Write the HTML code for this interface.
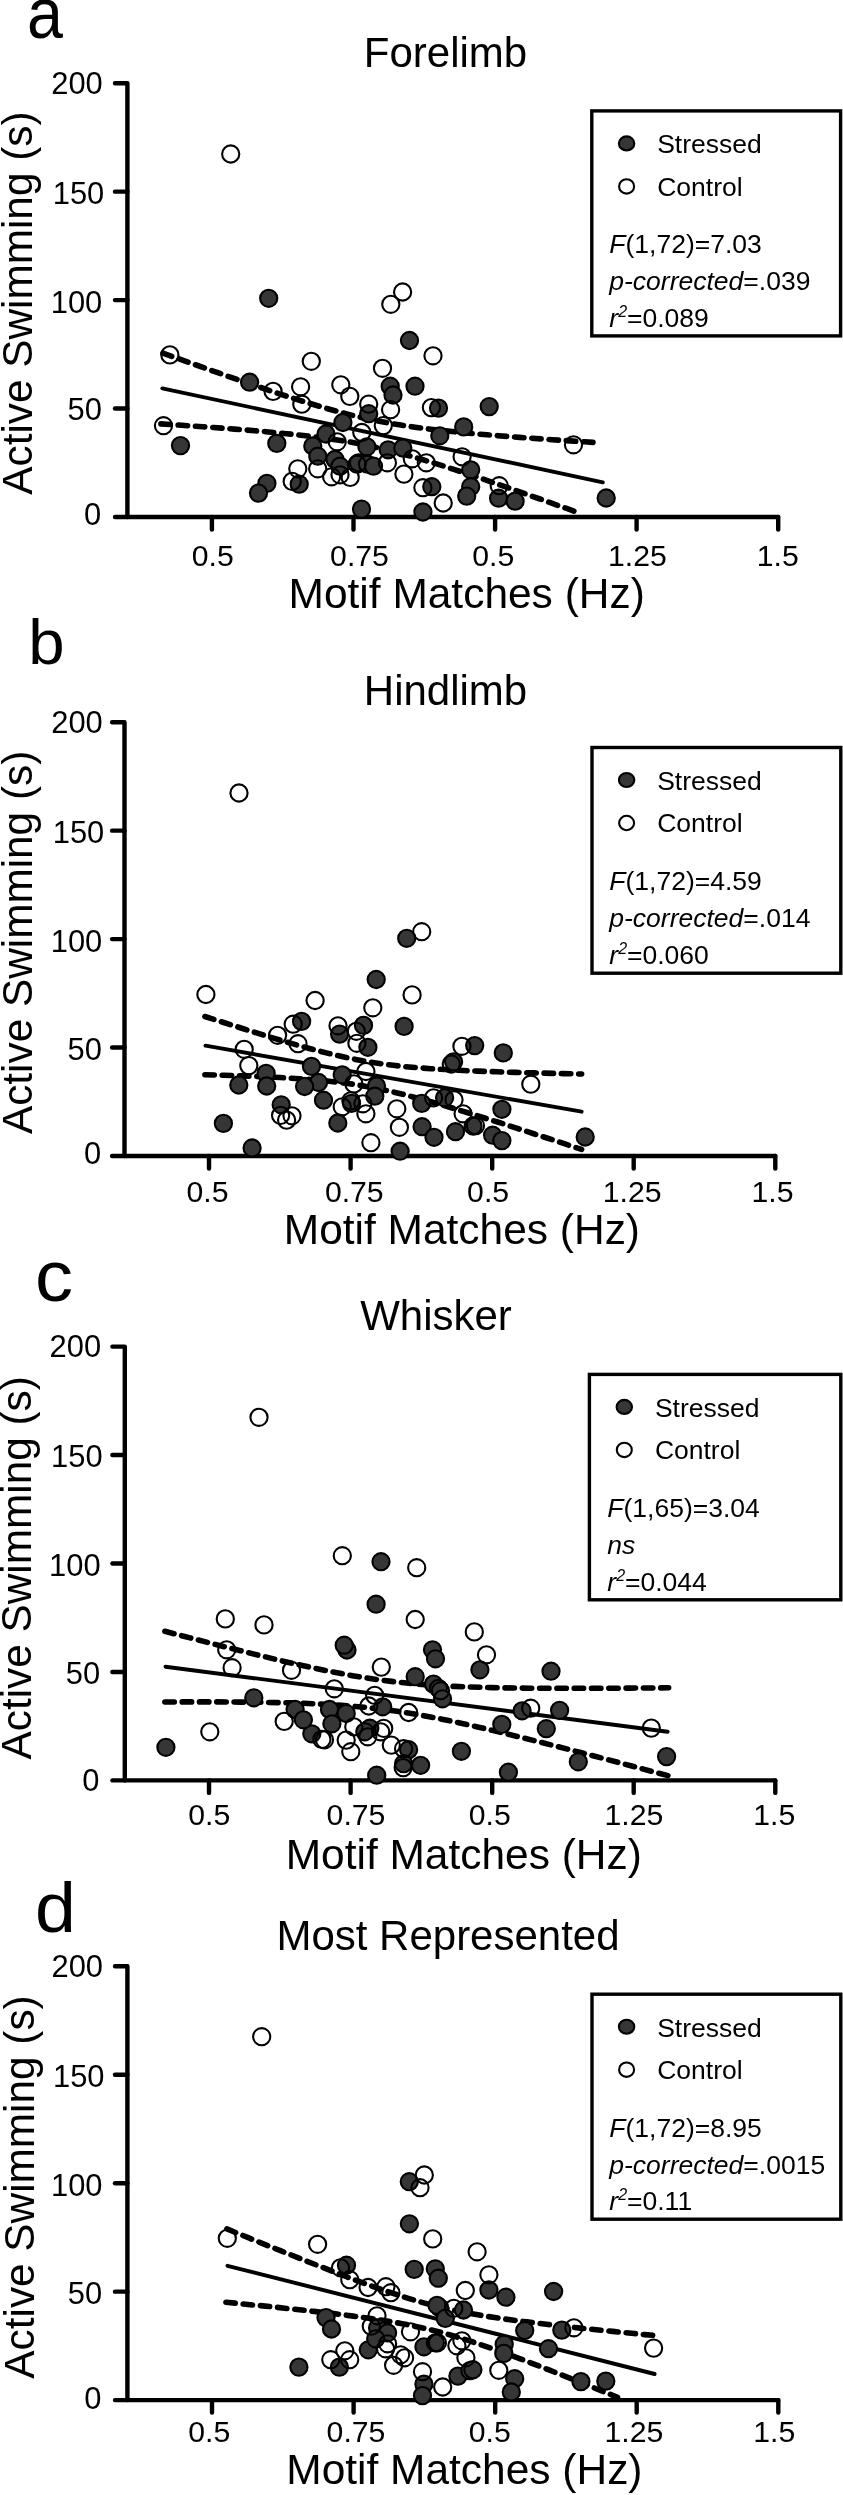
<!DOCTYPE html>
<html><head><meta charset="utf-8"><title>fig</title>
<style>
html,body{margin:0;padding:0;background:#fff;}
body{width:843px;height:2495px;overflow:hidden;}
svg{display:block;filter:grayscale(1);font-family:"Liberation Sans",sans-serif;fill:#000;}
.ax{stroke:#000;stroke-width:4.4;fill:none;stroke-linecap:round;stroke-linejoin:round}
.tk{font-size:30.2px}
.ytk{font-size:30.9px}
.big{font-size:42px}
.lg{font-size:26.5px}
.pl{font-size:72px}
.o{fill:none;stroke:#000;stroke-width:2.1}
.f{fill:#363636;stroke:#000;stroke-width:2.1}
.fit{stroke:#000;stroke-width:3.9;fill:none;stroke-linecap:round}
.ci{stroke:#000;stroke-width:5.6;fill:none;stroke-dasharray:9.4 7.9;stroke-linecap:round}
</style></head><body>
<svg width="843" height="2495" viewBox="0 0 843 2495">
<rect width="843" height="2495" fill="#fff"/>

<g>
<text class="pl" style="font-size:73px" transform="translate(27 37.7) scale(0.885 1)">a</text>
<text class="big" x="445.5" y="67" text-anchor="middle">Forelimb</text>
<path class="ax" d="M115.0 83.2 H127.4 V517.0"/>
<path class="ax" d="M115.0 517.0 H778.2"/>
<path class="ax" d="M115.0 408.55 H127.4"/>
<path class="ax" d="M115.0 300.1 H127.4"/>
<path class="ax" d="M115.0 191.64999999999998 H127.4"/>
<text class="ytk" x="101.2" y="525.0" text-anchor="end">0</text>
<text class="ytk" x="101.89999999999999" y="420.4" text-anchor="end">50</text>
<text class="ytk" x="102.3" y="312.9" text-anchor="end">100</text>
<text class="ytk" x="104.3" y="203.6" text-anchor="end">150</text>
<text class="ytk" x="102.8" y="93.6" text-anchor="end">200</text>
<path class="ax" d="M211.9 517.0 V529.5"/>
<text class="tk" x="212.7" y="566.0" text-anchor="middle">0.5</text>
<path class="ax" d="M353.5 517.0 V529.5"/>
<text class="tk" x="359.5" y="566.0" text-anchor="middle">0.75</text>
<path class="ax" d="M495.1 517.0 V529.5"/>
<text class="tk" x="493.3" y="566.0" text-anchor="middle">0.5</text>
<path class="ax" d="M636.6 517.0 V529.5"/>
<text class="tk" x="637.4" y="566.0" text-anchor="middle">1.25</text>
<path class="ax" d="M778.2 517.0 V529.5"/>
<text class="tk" x="777.7" y="566.0" text-anchor="middle">1.5</text>
<text class="big" x="466.7" y="607.5" text-anchor="middle" textLength="356.2" lengthAdjust="spacingAndGlyphs">Motif Matches (Hz)</text>
<text class="big" transform="translate(32.3 303.1) rotate(-90)" text-anchor="middle" textLength="383.3" lengthAdjust="spacingAndGlyphs">Active Swimming (s)</text>
<rect x="591.8" y="110.9" width="248.80000000000007" height="224.99999999999997" fill="#fff" stroke="#000" stroke-width="3.4"/>
<ellipse class="f" cx="626.6" cy="143.4" rx="7.7" ry="7.0"/>
<ellipse class="o" cx="626.6" cy="186.4" rx="7.5" ry="7.2"/>
<text class="lg" x="657.2" y="153.4">Stressed</text>
<text class="lg" x="657.2" y="195.8">Control</text>
<text class="lg" x="609.3" y="253.4"><tspan font-style="italic">F</tspan>(1,72)=7.03</text>
<text class="lg" x="609.3" y="290.2"><tspan font-style="italic">p-corrected</tspan>=.039</text>
<text class="lg" x="609.3" y="327.0"><tspan font-style="italic">r</tspan><tspan font-size="16" dy="-10" font-style="italic">2</tspan><tspan dy="10">=0.089</tspan></text>
<path class="ci" d="M162.9 353.1 L173.7 357.0 L184.5 360.8 L195.3 364.7 L206.2 368.5 L217.0 372.4 L227.8 376.2 L238.6 379.9 L249.4 383.7 L260.2 387.3 L271.0 391.0 L281.8 394.6 L292.6 398.1 L303.5 401.5 L314.3 404.8 L325.1 408.0 L335.9 411.0 L346.7 413.9 L357.5 416.6 L368.3 419.0 L379.1 421.2 L390.0 423.3 L400.8 425.1 L411.6 426.7 L422.4 428.2 L433.2 429.5 L444.0 430.7 L454.8 431.8 L465.6 432.9 L476.5 433.9 L487.3 434.8 L498.1 435.7 L508.9 436.5 L519.7 437.4 L530.5 438.1 L541.3 438.9 L552.1 439.7 L563.0 440.4 L573.8 441.1 L584.6 441.8 L595.4 442.5"/>
<path class="ci" d="M160.9 423.9 L171.4 424.6 L181.9 425.3 L192.4 426.0 L202.9 426.7 L213.4 427.5 L223.8 428.3 L234.3 429.1 L244.8 429.9 L255.3 430.8 L265.8 431.7 L276.3 432.7 L286.8 433.7 L297.3 434.8 L307.8 436.0 L318.2 437.3 L328.7 438.7 L339.2 440.3 L349.7 442.0 L360.2 444.0 L370.7 446.1 L381.2 448.5 L391.7 451.0 L402.2 453.8 L412.7 456.7 L423.1 459.8 L433.6 462.9 L444.1 466.2 L454.6 469.6 L465.1 473.1 L475.6 476.6 L486.1 480.1 L496.6 483.8 L507.1 487.4 L517.6 491.1 L528.0 494.8 L538.5 498.5 L549.0 502.2 L559.5 506.0 L570.0 509.7 L580.5 513.5"/>
<path class="fit" d="M162.3 388.4 L602.8 482.3"/>
<circle class="f" cx="268.7" cy="298.3" r="8.6"/>
<circle class="f" cx="409.5" cy="340.5" r="8.6"/>
<circle class="f" cx="249.6" cy="382.2" r="8.6"/>
<circle class="f" cx="415" cy="386.2" r="8.6"/>
<circle class="f" cx="390.2" cy="386.2" r="8.6"/>
<circle class="f" cx="393" cy="395" r="8.6"/>
<circle class="f" cx="438.5" cy="408.1" r="8.6"/>
<circle class="f" cx="368.7" cy="413.7" r="8.6"/>
<circle class="f" cx="342.9" cy="422.5" r="8.6"/>
<circle class="f" cx="326" cy="434" r="8.6"/>
<circle class="f" cx="439.8" cy="435.8" r="8.6"/>
<circle class="f" cx="312.8" cy="446" r="8.6"/>
<circle class="f" cx="366.9" cy="446.8" r="8.6"/>
<circle class="f" cx="317.8" cy="456.2" r="8.6"/>
<circle class="f" cx="388.2" cy="449.8" r="8.6"/>
<circle class="f" cx="402.8" cy="448" r="8.6"/>
<circle class="f" cx="180.5" cy="445.6" r="8.6"/>
<circle class="f" cx="276.8" cy="443.4" r="8.6"/>
<circle class="f" cx="266.9" cy="483.4" r="8.6"/>
<circle class="f" cx="258.5" cy="493.1" r="8.6"/>
<circle class="f" cx="299.2" cy="484.2" r="8.6"/>
<circle class="f" cx="335" cy="459.5" r="8.6"/>
<circle class="f" cx="340" cy="466.2" r="8.6"/>
<circle class="f" cx="358.5" cy="462.8" r="8.6"/>
<circle class="f" cx="367.5" cy="464.2" r="8.6"/>
<circle class="f" cx="373.5" cy="466.2" r="8.6"/>
<circle class="f" cx="361.5" cy="509.1" r="8.6"/>
<circle class="f" cx="489.2" cy="406.6" r="8.6"/>
<circle class="f" cx="463.7" cy="426.9" r="8.6"/>
<circle class="f" cx="470.7" cy="469.8" r="8.6"/>
<circle class="f" cx="470.7" cy="486.7" r="8.6"/>
<circle class="f" cx="466.7" cy="496.1" r="8.6"/>
<circle class="f" cx="431.8" cy="486.7" r="8.6"/>
<circle class="f" cx="422.9" cy="512" r="8.6"/>
<circle class="f" cx="498.6" cy="498.2" r="8.6"/>
<circle class="f" cx="515.1" cy="501.2" r="8.6"/>
<circle class="f" cx="606.2" cy="498" r="8.6"/>
<circle class="o" cx="230.7" cy="154" r="8.6"/>
<circle class="o" cx="402.6" cy="292" r="8.6"/>
<circle class="o" cx="390.8" cy="304.3" r="8.6"/>
<circle class="o" cx="169.9" cy="354.9" r="8.6"/>
<circle class="o" cx="273.1" cy="391.4" r="8.6"/>
<circle class="o" cx="163.5" cy="425.7" r="8.6"/>
<circle class="o" cx="301.8" cy="404.2" r="8.6"/>
<circle class="o" cx="300.6" cy="386.8" r="8.6"/>
<circle class="o" cx="311.3" cy="361.3" r="8.6"/>
<circle class="o" cx="340.8" cy="384.8" r="8.6"/>
<circle class="o" cx="349.8" cy="396.4" r="8.6"/>
<circle class="o" cx="368.7" cy="404.1" r="8.6"/>
<circle class="o" cx="382.5" cy="368.3" r="8.6"/>
<circle class="o" cx="390.6" cy="409.7" r="8.6"/>
<circle class="o" cx="433" cy="355.8" r="8.6"/>
<circle class="o" cx="431.4" cy="407.6" r="8.6"/>
<circle class="o" cx="383.3" cy="425.6" r="8.6"/>
<circle class="o" cx="361.8" cy="432.5" r="8.6"/>
<circle class="o" cx="337.2" cy="441.8" r="8.6"/>
<circle class="o" cx="297.8" cy="468.8" r="8.6"/>
<circle class="o" cx="292.2" cy="481.4" r="8.6"/>
<circle class="o" cx="317.7" cy="468.8" r="8.6"/>
<circle class="o" cx="331.6" cy="476.8" r="8.6"/>
<circle class="o" cx="340" cy="474.8" r="8.6"/>
<circle class="o" cx="350.2" cy="477.4" r="8.6"/>
<circle class="o" cx="357.1" cy="464.2" r="8.6"/>
<circle class="o" cx="387.4" cy="462.8" r="8.6"/>
<circle class="o" cx="462.1" cy="456.8" r="8.6"/>
<circle class="o" cx="412.3" cy="458.8" r="8.6"/>
<circle class="o" cx="426.3" cy="462.8" r="8.6"/>
<circle class="o" cx="403.9" cy="474.1" r="8.6"/>
<circle class="o" cx="422.9" cy="487.7" r="8.6"/>
<circle class="o" cx="443.2" cy="503" r="8.6"/>
<circle class="o" cx="499.2" cy="485.7" r="8.6"/>
<circle class="o" cx="573.5" cy="444.8" r="8.6"/>
</g>
<g>
<text class="pl" style="font-size:63.5px" transform="translate(28.3 663.6) scale(1.03 1)">b</text>
<text class="big" x="445.5" y="705" text-anchor="middle">Hindlimb</text>
<path class="ax" d="M112.1 722.2 H124.5 V1156.0"/>
<path class="ax" d="M112.1 1156.0 H775.3000000000001"/>
<path class="ax" d="M112.1 1047.55 H124.5"/>
<path class="ax" d="M112.1 939.1 H124.5"/>
<path class="ax" d="M112.1 830.65 H124.5"/>
<text class="ytk" x="101.2" y="1164.0" text-anchor="end">0</text>
<text class="ytk" x="101.89999999999999" y="1059.5" text-anchor="end">50</text>
<text class="ytk" x="102.3" y="951.9" text-anchor="end">100</text>
<text class="ytk" x="104.3" y="842.6" text-anchor="end">150</text>
<text class="ytk" x="102.8" y="732.6" text-anchor="end">200</text>
<path class="ax" d="M209.0 1156.0 V1168.5"/>
<text class="tk" x="207.5" y="1201.5" text-anchor="middle">0.5</text>
<path class="ax" d="M350.6 1156.0 V1168.5"/>
<text class="tk" x="354.3" y="1201.5" text-anchor="middle">0.75</text>
<path class="ax" d="M492.20000000000005 1156.0 V1168.5"/>
<text class="tk" x="488.1" y="1201.5" text-anchor="middle">0.5</text>
<path class="ax" d="M633.7 1156.0 V1168.5"/>
<text class="tk" x="632.2" y="1201.5" text-anchor="middle">1.25</text>
<path class="ax" d="M775.3000000000001 1156.0 V1168.5"/>
<text class="tk" x="772.5" y="1201.5" text-anchor="middle">1.5</text>
<text class="big" x="461.9" y="1244.0" text-anchor="middle" textLength="356.2" lengthAdjust="spacingAndGlyphs">Motif Matches (Hz)</text>
<text class="big" transform="translate(32.3 942.4) rotate(-90)" text-anchor="middle" textLength="383.3" lengthAdjust="spacingAndGlyphs">Active Swimming (s)</text>
<rect x="592" y="747.5" width="248.79999999999995" height="225.70000000000005" fill="#fff" stroke="#000" stroke-width="3.4"/>
<ellipse class="f" cx="626.6" cy="780.0" rx="7.7" ry="7.0"/>
<ellipse class="o" cx="626.6" cy="823.0" rx="7.5" ry="7.2"/>
<text class="lg" x="657.2" y="790.0">Stressed</text>
<text class="lg" x="657.2" y="832.4">Control</text>
<text class="lg" x="609.3" y="890.0"><tspan font-style="italic">F</tspan>(1,72)=4.59</text>
<text class="lg" x="609.3" y="926.8"><tspan font-style="italic">p-corrected</tspan>=.014</text>
<text class="lg" x="609.3" y="963.6"><tspan font-style="italic">r</tspan><tspan font-size="16" dy="-10" font-style="italic">2</tspan><tspan dy="10">=0.060</tspan></text>
<path class="ci" d="M204.9 1016.5 L214.3 1019.5 L223.7 1022.5 L233.2 1025.5 L242.6 1028.5 L252.0 1031.5 L261.4 1034.4 L270.8 1037.3 L280.2 1040.1 L289.7 1042.9 L299.1 1045.6 L308.5 1048.2 L317.9 1050.7 L327.3 1053.1 L336.7 1055.4 L346.2 1057.5 L355.6 1059.4 L365.0 1061.2 L374.4 1062.7 L383.8 1064.1 L393.2 1065.3 L402.7 1066.4 L412.1 1067.3 L421.5 1068.0 L430.9 1068.7 L440.3 1069.3 L449.8 1069.8 L459.2 1070.3 L468.6 1070.8 L478.0 1071.1 L487.4 1071.5 L496.8 1071.8 L506.3 1072.1 L515.7 1072.4 L525.1 1072.7 L534.5 1072.9 L543.9 1073.1 L553.3 1073.4 L562.8 1073.6 L572.2 1073.8 L581.6 1074.0"/>
<path class="ci" d="M204.9 1074.7 L214.3 1075.0 L223.7 1075.3 L233.2 1075.6 L242.6 1075.9 L252.0 1076.2 L261.4 1076.6 L270.8 1077.1 L280.2 1077.5 L289.7 1078.1 L299.1 1078.7 L308.5 1079.3 L317.9 1080.1 L327.3 1081.0 L336.7 1082.1 L346.2 1083.3 L355.6 1084.6 L365.0 1086.2 L374.4 1087.9 L383.8 1089.9 L393.2 1092.0 L402.7 1094.2 L412.1 1096.7 L421.5 1099.2 L430.9 1101.8 L440.3 1104.5 L449.8 1107.3 L459.2 1110.1 L468.6 1113.0 L478.0 1115.9 L487.4 1118.9 L496.8 1121.8 L506.3 1124.8 L515.7 1127.9 L525.1 1130.9 L534.5 1134.0 L543.9 1137.0 L553.3 1140.1 L562.8 1143.2 L572.2 1146.3 L581.6 1149.4"/>
<path class="fit" d="M205.5 1045.7 L581.6 1111.7"/>
<circle class="f" cx="376.2" cy="979.5" r="8.6"/>
<circle class="f" cx="301.6" cy="1021.4" r="8.6"/>
<circle class="f" cx="339.6" cy="1034.1" r="8.6"/>
<circle class="f" cx="311.5" cy="1066.4" r="8.6"/>
<circle class="f" cx="266.1" cy="1073.4" r="8.6"/>
<circle class="f" cx="238.8" cy="1085" r="8.6"/>
<circle class="f" cx="318.5" cy="1082.5" r="8.6"/>
<circle class="f" cx="304.6" cy="1086.5" r="8.6"/>
<circle class="f" cx="266.7" cy="1086" r="8.6"/>
<circle class="f" cx="342.2" cy="1074.8" r="8.6"/>
<circle class="f" cx="323.5" cy="1100.2" r="8.6"/>
<circle class="f" cx="281.2" cy="1104.8" r="8.6"/>
<circle class="f" cx="223.4" cy="1123.4" r="8.6"/>
<circle class="f" cx="252.1" cy="1148" r="8.6"/>
<circle class="f" cx="337.8" cy="1123" r="8.6"/>
<circle class="f" cx="404.1" cy="1026.4" r="8.6"/>
<circle class="f" cx="363.5" cy="1025.4" r="8.6"/>
<circle class="f" cx="367.9" cy="1047.3" r="8.6"/>
<circle class="f" cx="474.7" cy="1045.6" r="8.6"/>
<circle class="f" cx="453.6" cy="1061.8" r="8.6"/>
<circle class="f" cx="376.5" cy="1086" r="8.6"/>
<circle class="f" cx="374.8" cy="1096.2" r="8.6"/>
<circle class="f" cx="351.5" cy="1103.4" r="8.6"/>
<circle class="f" cx="421.7" cy="1103.4" r="8.6"/>
<circle class="f" cx="422.1" cy="1126.7" r="8.6"/>
<circle class="f" cx="434" cy="1137.3" r="8.6"/>
<circle class="f" cx="400.1" cy="1151.2" r="8.6"/>
<circle class="f" cx="444.6" cy="1097.8" r="8.6"/>
<circle class="f" cx="455.5" cy="1131.7" r="8.6"/>
<circle class="f" cx="473.1" cy="1126" r="8.6"/>
<circle class="f" cx="492.6" cy="1135.2" r="8.6"/>
<circle class="f" cx="503.3" cy="1052.9" r="8.6"/>
<circle class="f" cx="501.9" cy="1109.3" r="8.6"/>
<circle class="f" cx="501.9" cy="1140.6" r="8.6"/>
<circle class="f" cx="585.2" cy="1137" r="8.6"/>
<circle class="o" cx="239" cy="793" r="8.6"/>
<circle class="o" cx="421.7" cy="931.7" r="8.6"/>
<circle class="o" cx="205.9" cy="994.5" r="8.6"/>
<circle class="o" cx="315.1" cy="1000.5" r="8.6"/>
<circle class="o" cx="293.2" cy="1024.2" r="8.6"/>
<circle class="o" cx="277.6" cy="1035.3" r="8.6"/>
<circle class="o" cx="298" cy="1043.7" r="8.6"/>
<circle class="o" cx="244.2" cy="1049.3" r="8.6"/>
<circle class="o" cx="248.8" cy="1065.6" r="8.6"/>
<circle class="o" cx="338" cy="1025.8" r="8.6"/>
<circle class="o" cx="280.6" cy="1115.4" r="8.6"/>
<circle class="o" cx="286.6" cy="1120.1" r="8.6"/>
<circle class="o" cx="292" cy="1115.8" r="8.6"/>
<circle class="o" cx="342.2" cy="1106.8" r="8.6"/>
<circle class="o" cx="412.1" cy="994.9" r="8.6"/>
<circle class="o" cx="372.8" cy="1007.8" r="8.6"/>
<circle class="o" cx="356.3" cy="1031.3" r="8.6"/>
<circle class="o" cx="356.9" cy="1043.3" r="8.6"/>
<circle class="o" cx="461.9" cy="1046.3" r="8.6"/>
<circle class="o" cx="451.3" cy="1064" r="8.6"/>
<circle class="o" cx="365.9" cy="1071.5" r="8.6"/>
<circle class="o" cx="353.9" cy="1083.9" r="8.6"/>
<circle class="o" cx="350.9" cy="1100.8" r="8.6"/>
<circle class="o" cx="362.9" cy="1103.8" r="8.6"/>
<circle class="o" cx="365.9" cy="1113.8" r="8.6"/>
<circle class="o" cx="396.8" cy="1108.8" r="8.6"/>
<circle class="o" cx="399.4" cy="1127.3" r="8.6"/>
<circle class="o" cx="370.9" cy="1142.7" r="8.6"/>
<circle class="o" cx="433.6" cy="1097.8" r="8.6"/>
<circle class="o" cx="454" cy="1099.8" r="8.6"/>
<circle class="o" cx="463.1" cy="1113.8" r="8.6"/>
<circle class="o" cx="475.5" cy="1125.7" r="8.6"/>
<circle class="o" cx="530.8" cy="1084.2" r="8.6"/>
<circle class="f" cx="406.7" cy="938.3" r="8.6"/>
</g>
<g>
<text class="pl" style="font-size:72px" transform="translate(35 1300.7) scale(1.055 1)">c</text>
<text class="big" x="436" y="1330" text-anchor="middle">Whisker</text>
<path class="ax" d="M112.39999999999999 1346.6 H124.8 V1780.3999999999999"/>
<path class="ax" d="M112.39999999999999 1780.3999999999999 H775.3000000000001"/>
<path class="ax" d="M112.39999999999999 1671.9499999999998 H124.8"/>
<path class="ax" d="M112.39999999999999 1563.4999999999998 H124.8"/>
<path class="ax" d="M112.39999999999999 1455.0499999999997 H124.8"/>
<text class="ytk" x="99.5" y="1791.4" text-anchor="end">0</text>
<text class="ytk" x="100.19999999999999" y="1683.8" text-anchor="end">50</text>
<text class="ytk" x="100.6" y="1576.3" text-anchor="end">100</text>
<text class="ytk" x="102.6" y="1467.0" text-anchor="end">150</text>
<text class="ytk" x="101.1" y="1357.0" text-anchor="end">200</text>
<path class="ax" d="M209.0 1780.3999999999999 V1792.8999999999999"/>
<text class="tk" x="209.2" y="1825.4" text-anchor="middle">0.5</text>
<path class="ax" d="M350.6 1780.3999999999999 V1792.8999999999999"/>
<text class="tk" x="356.0" y="1825.4" text-anchor="middle">0.75</text>
<path class="ax" d="M492.20000000000005 1780.3999999999999 V1792.8999999999999"/>
<text class="tk" x="489.8" y="1825.4" text-anchor="middle">0.5</text>
<path class="ax" d="M633.7 1780.3999999999999 V1792.8999999999999"/>
<text class="tk" x="633.9" y="1825.4" text-anchor="middle">1.25</text>
<path class="ax" d="M775.3000000000001 1780.3999999999999 V1792.8999999999999"/>
<text class="tk" x="774.2" y="1825.4" text-anchor="middle">1.5</text>
<text class="big" x="463.8" y="1868.5" text-anchor="middle" textLength="356.2" lengthAdjust="spacingAndGlyphs">Motif Matches (Hz)</text>
<text class="big" transform="translate(30.799999999999997 1567.8) rotate(-90)" text-anchor="middle" textLength="383.3" lengthAdjust="spacingAndGlyphs">Active Swimming (s)</text>
<rect x="589.4" y="1374.4" width="251.39999999999998" height="225.39999999999986" fill="#fff" stroke="#000" stroke-width="3.4"/>
<ellipse class="f" cx="624.3" cy="1406.9" rx="7.7" ry="7.0"/>
<ellipse class="o" cx="624.3" cy="1449.9" rx="7.5" ry="7.2"/>
<text class="lg" x="654.9" y="1416.9">Stressed</text>
<text class="lg" x="654.9" y="1459.3000000000002">Control</text>
<text class="lg" x="607.3" y="1516.9"><tspan font-style="italic">F</tspan>(1,65)=3.04</text>
<text class="lg" x="607.3" y="1553.7"><tspan font-style="italic">ns</tspan></text>
<text class="lg" x="607.3" y="1590.5"><tspan font-style="italic">r</tspan><tspan font-size="16" dy="-10" font-style="italic">2</tspan><tspan dy="10">=0.044</tspan></text>
<path class="ci" d="M164.9 1631.3 L177.5 1634.6 L190.1 1637.9 L202.7 1641.1 L215.3 1644.4 L227.9 1647.6 L240.5 1650.7 L253.0 1653.9 L265.6 1656.9 L278.2 1660.0 L290.8 1662.9 L303.4 1665.8 L316.0 1668.5 L328.6 1671.1 L341.2 1673.6 L353.8 1675.9 L366.4 1678.0 L379.0 1679.8 L391.6 1681.4 L404.2 1682.8 L416.8 1684.0 L429.3 1685.0 L441.9 1685.8 L454.5 1686.4 L467.1 1686.9 L479.7 1687.3 L492.3 1687.6 L504.9 1687.9 L517.5 1688.0 L530.1 1688.2 L542.7 1688.3 L555.3 1688.3 L567.9 1688.3 L580.5 1688.3 L593.0 1688.3 L605.6 1688.3 L618.2 1688.2 L630.8 1688.1 L643.4 1688.0 L656.0 1687.9 L668.6 1687.8"/>
<path class="ci" d="M164.9 1702.0 L177.5 1701.9 L190.1 1701.9 L202.7 1701.9 L215.3 1701.9 L227.9 1702.0 L240.5 1702.1 L253.0 1702.2 L265.6 1702.4 L278.2 1702.6 L290.8 1702.9 L303.4 1703.3 L316.0 1703.9 L328.6 1704.5 L341.2 1705.3 L353.8 1706.3 L366.4 1707.5 L379.0 1708.9 L391.6 1710.5 L404.2 1712.4 L416.8 1714.5 L429.3 1716.7 L441.9 1719.2 L454.5 1721.8 L467.1 1724.6 L479.7 1727.4 L492.3 1730.4 L504.9 1733.4 L517.5 1736.5 L530.1 1739.6 L542.7 1742.8 L555.3 1746.0 L567.9 1749.2 L580.5 1752.5 L593.0 1755.8 L605.6 1759.1 L618.2 1762.4 L630.8 1765.8 L643.4 1769.1 L656.0 1772.5 L668.6 1775.8"/>
<path class="fit" d="M165.5 1666.7 L667.6 1731.7"/>
<circle class="f" cx="381" cy="1561.7" r="8.6"/>
<circle class="f" cx="376.1" cy="1604.2" r="8.6"/>
<circle class="f" cx="253.8" cy="1697.8" r="8.6"/>
<circle class="f" cx="295.1" cy="1709.5" r="8.6"/>
<circle class="f" cx="311.8" cy="1733.8" r="8.6"/>
<circle class="f" cx="165.9" cy="1747.3" r="8.6"/>
<circle class="f" cx="347" cy="1650" r="8.6"/>
<circle class="f" cx="344.2" cy="1645.2" r="8.6"/>
<circle class="f" cx="432.5" cy="1649.8" r="8.6"/>
<circle class="f" cx="435.5" cy="1658.8" r="8.6"/>
<circle class="f" cx="415.2" cy="1676.7" r="8.6"/>
<circle class="f" cx="433.5" cy="1684.1" r="8.6"/>
<circle class="f" cx="438.5" cy="1688.3" r="8.6"/>
<circle class="f" cx="442.5" cy="1698.8" r="8.6"/>
<circle class="f" cx="382.7" cy="1706.8" r="8.6"/>
<circle class="f" cx="329.5" cy="1709.5" r="8.6"/>
<circle class="f" cx="346.2" cy="1713.5" r="8.6"/>
<circle class="f" cx="331.9" cy="1723.8" r="8.6"/>
<circle class="f" cx="369.8" cy="1728.2" r="8.6"/>
<circle class="f" cx="364.8" cy="1731.8" r="8.6"/>
<circle class="f" cx="408.6" cy="1749.7" r="8.6"/>
<circle class="f" cx="403.6" cy="1763.7" r="8.6"/>
<circle class="f" cx="420.6" cy="1765.3" r="8.6"/>
<circle class="f" cx="376.7" cy="1775.2" r="8.6"/>
<circle class="f" cx="461.4" cy="1751.3" r="8.6"/>
<circle class="f" cx="479.9" cy="1669.8" r="8.6"/>
<circle class="f" cx="551" cy="1671.2" r="8.6"/>
<circle class="f" cx="522.1" cy="1710.8" r="8.6"/>
<circle class="f" cx="559.6" cy="1710.3" r="8.6"/>
<circle class="f" cx="501.8" cy="1724.4" r="8.6"/>
<circle class="f" cx="546.3" cy="1728.7" r="8.6"/>
<circle class="f" cx="508.4" cy="1772.2" r="8.6"/>
<circle class="f" cx="578.3" cy="1761.8" r="8.6"/>
<circle class="f" cx="666.6" cy="1756.6" r="8.6"/>
<circle class="o" cx="324.5" cy="1739.8" r="8.6"/>
<circle class="o" cx="259" cy="1417.3" r="8.6"/>
<circle class="o" cx="342.3" cy="1555.7" r="8.6"/>
<circle class="o" cx="416.7" cy="1567.7" r="8.6"/>
<circle class="o" cx="225.3" cy="1618.9" r="8.6"/>
<circle class="o" cx="264" cy="1624.9" r="8.6"/>
<circle class="o" cx="226.7" cy="1649.8" r="8.6"/>
<circle class="o" cx="232.1" cy="1667.7" r="8.6"/>
<circle class="o" cx="291.5" cy="1670.3" r="8.6"/>
<circle class="o" cx="284.2" cy="1721.4" r="8.6"/>
<circle class="o" cx="209.8" cy="1731.8" r="8.6"/>
<circle class="o" cx="415.2" cy="1619.5" r="8.6"/>
<circle class="o" cx="381.3" cy="1667.1" r="8.6"/>
<circle class="o" cx="334.3" cy="1688.8" r="8.6"/>
<circle class="o" cx="374.7" cy="1695.4" r="8.6"/>
<circle class="o" cx="368.8" cy="1706" r="8.6"/>
<circle class="o" cx="408.6" cy="1712.5" r="8.6"/>
<circle class="o" cx="440.5" cy="1690.7" r="8.6"/>
<circle class="o" cx="321.9" cy="1739.4" r="8.6"/>
<circle class="o" cx="353.8" cy="1726.8" r="8.6"/>
<circle class="o" cx="346.2" cy="1740.1" r="8.6"/>
<circle class="o" cx="350.8" cy="1751.7" r="8.6"/>
<circle class="o" cx="367.8" cy="1736.8" r="8.6"/>
<circle class="o" cx="380.7" cy="1731.8" r="8.6"/>
<circle class="o" cx="383.7" cy="1728.4" r="8.6"/>
<circle class="o" cx="391.3" cy="1745.1" r="8.6"/>
<circle class="o" cx="403.6" cy="1748.7" r="8.6"/>
<circle class="o" cx="403.2" cy="1767.6" r="8.6"/>
<circle class="o" cx="474.3" cy="1631.9" r="8.6"/>
<circle class="o" cx="486.5" cy="1654.8" r="8.6"/>
<circle class="o" cx="530.7" cy="1708.2" r="8.6"/>
<circle class="o" cx="651.3" cy="1728.1" r="8.6"/>
<circle class="f" cx="303.4" cy="1719.8" r="8.6"/>
</g>
<g>
<text class="pl" style="font-size:69.5px" transform="translate(35 1931.5) scale(1.057 1)">d</text>
<text class="big" x="448" y="1949.8" text-anchor="middle">Most Represented</text>
<path class="ax" d="M115.0 1966.3 H127.4 V2400.1"/>
<path class="ax" d="M115.0 2400.1 H778.3000000000001"/>
<path class="ax" d="M115.0 2291.65 H127.4"/>
<path class="ax" d="M115.0 2183.2 H127.4"/>
<path class="ax" d="M115.0 2074.75 H127.4"/>
<text class="ytk" x="101.4" y="2409.1" text-anchor="end">0</text>
<text class="ytk" x="102.1" y="2303.6" text-anchor="end">50</text>
<text class="ytk" x="102.5" y="2196.0" text-anchor="end">100</text>
<text class="ytk" x="104.5" y="2086.8" text-anchor="end">150</text>
<text class="ytk" x="103.0" y="1976.7" text-anchor="end">200</text>
<path class="ax" d="M212.0 2400.1 V2412.6"/>
<text class="tk" x="209.2" y="2441.9" text-anchor="middle">0.5</text>
<path class="ax" d="M353.6 2400.1 V2412.6"/>
<text class="tk" x="356.0" y="2441.9" text-anchor="middle">0.75</text>
<path class="ax" d="M495.20000000000005 2400.1 V2412.6"/>
<text class="tk" x="489.8" y="2441.9" text-anchor="middle">0.5</text>
<path class="ax" d="M636.7 2400.1 V2412.6"/>
<text class="tk" x="633.9" y="2441.9" text-anchor="middle">1.25</text>
<path class="ax" d="M778.3000000000001 2400.1 V2412.6"/>
<text class="tk" x="774.2" y="2441.9" text-anchor="middle">1.5</text>
<text class="big" x="464.4" y="2483.7" text-anchor="middle" textLength="356.2" lengthAdjust="spacingAndGlyphs">Motif Matches (Hz)</text>
<text class="big" transform="translate(33.699999999999996 2187.0) rotate(-90)" text-anchor="middle" textLength="383.3" lengthAdjust="spacingAndGlyphs">Active Swimming (s)</text>
<rect x="592" y="1994.2" width="248.79999999999995" height="224.99999999999977" fill="#fff" stroke="#000" stroke-width="3.4"/>
<ellipse class="f" cx="626.6" cy="2026.7" rx="7.7" ry="7.0"/>
<ellipse class="o" cx="626.6" cy="2069.7" rx="7.5" ry="7.2"/>
<text class="lg" x="657.2" y="2036.7">Stressed</text>
<text class="lg" x="657.2" y="2079.1">Control</text>
<text class="lg" x="609.3" y="2136.7"><tspan font-style="italic">F</tspan>(1,72)=8.95</text>
<text class="lg" x="609.3" y="2173.5"><tspan font-style="italic">p-corrected</tspan>=.0015</text>
<text class="lg" x="609.3" y="2210.3"><tspan font-style="italic">r</tspan><tspan font-size="16" dy="-10" font-style="italic">2</tspan><tspan dy="10">=0.11</tspan></text>
<path class="ci" d="M226.9 2228.9 L237.6 2233.3 L248.3 2237.7 L259.1 2242.1 L269.8 2246.4 L280.5 2250.7 L291.2 2255.0 L301.9 2259.3 L312.6 2263.5 L323.4 2267.7 L334.1 2271.9 L344.8 2276.0 L355.5 2280.1 L366.2 2284.0 L376.9 2287.9 L387.7 2291.6 L398.4 2295.2 L409.1 2298.6 L419.8 2301.8 L430.5 2304.7 L441.2 2307.4 L452.0 2309.9 L462.7 2312.1 L473.4 2314.1 L484.1 2315.9 L494.8 2317.6 L505.6 2319.1 L516.3 2320.6 L527.0 2321.9 L537.7 2323.3 L548.4 2324.5 L559.1 2325.7 L569.9 2326.9 L580.6 2328.1 L591.3 2329.2 L602.0 2330.3 L612.7 2331.4 L623.4 2332.5 L634.2 2333.5 L644.9 2334.6 L655.6 2335.6"/>
<path class="ci" d="M225.9 2302.3 L235.7 2303.2 L245.5 2304.2 L255.3 2305.2 L265.1 2306.1 L274.9 2307.1 L284.6 2308.2 L294.4 2309.2 L304.2 2310.3 L314.0 2311.4 L323.8 2312.5 L333.6 2313.6 L343.4 2314.8 L353.2 2316.1 L363.0 2317.4 L372.8 2318.8 L382.5 2320.3 L392.3 2321.9 L402.1 2323.7 L411.9 2325.6 L421.7 2327.7 L431.5 2330.0 L441.3 2332.5 L451.1 2335.2 L460.9 2338.1 L470.6 2341.2 L480.4 2344.5 L490.2 2347.9 L500.0 2351.3 L509.8 2354.9 L519.6 2358.6 L529.4 2362.3 L539.2 2366.1 L549.0 2369.9 L558.8 2373.8 L568.5 2377.6 L578.3 2381.5 L588.1 2385.5 L597.9 2389.4 L607.7 2393.4 L617.5 2397.3"/>
<path class="fit" d="M227.5 2265.8 L654.6 2374"/>
<circle class="f" cx="439.7" cy="2307.7" r="8.6"/>
<circle class="f" cx="409.3" cy="2181.7" r="8.6"/>
<circle class="f" cx="409.4" cy="2223.8" r="8.6"/>
<circle class="f" cx="346.5" cy="2265.2" r="8.6"/>
<circle class="f" cx="326" cy="2317.6" r="8.6"/>
<circle class="f" cx="331.5" cy="2329" r="8.6"/>
<circle class="f" cx="298.9" cy="2367.1" r="8.6"/>
<circle class="f" cx="339.4" cy="2367.1" r="8.6"/>
<circle class="f" cx="368.3" cy="2349.8" r="8.6"/>
<circle class="f" cx="377.6" cy="2327.9" r="8.6"/>
<circle class="f" cx="387.6" cy="2332.8" r="8.6"/>
<circle class="f" cx="375.7" cy="2338.8" r="8.6"/>
<circle class="f" cx="423.9" cy="2346.8" r="8.6"/>
<circle class="f" cx="435.4" cy="2342.8" r="8.6"/>
<circle class="f" cx="423.9" cy="2384.1" r="8.6"/>
<circle class="f" cx="422.5" cy="2395.6" r="8.6"/>
<circle class="f" cx="437" cy="2305.3" r="8.6"/>
<circle class="f" cx="445.3" cy="2318.4" r="8.6"/>
<circle class="f" cx="414.2" cy="2269.4" r="8.6"/>
<circle class="f" cx="435.3" cy="2268.8" r="8.6"/>
<circle class="f" cx="438.3" cy="2278.2" r="8.6"/>
<circle class="f" cx="488.9" cy="2290" r="8.6"/>
<circle class="f" cx="505.9" cy="2297.2" r="8.6"/>
<circle class="f" cx="463.5" cy="2310" r="8.6"/>
<circle class="f" cx="524.7" cy="2330.5" r="8.6"/>
<circle class="f" cx="553.6" cy="2291.5" r="8.6"/>
<circle class="f" cx="561.8" cy="2330.1" r="8.6"/>
<circle class="f" cx="548.5" cy="2348.7" r="8.6"/>
<circle class="f" cx="504.2" cy="2344.2" r="8.6"/>
<circle class="f" cx="503.8" cy="2353.4" r="8.6"/>
<circle class="f" cx="514.7" cy="2378.7" r="8.6"/>
<circle class="f" cx="511.3" cy="2392" r="8.6"/>
<circle class="f" cx="457.9" cy="2376.1" r="8.6"/>
<circle class="f" cx="469.9" cy="2370.7" r="8.6"/>
<circle class="f" cx="472.9" cy="2369.7" r="8.6"/>
<circle class="f" cx="580.9" cy="2381.6" r="8.6"/>
<circle class="f" cx="605.8" cy="2381.1" r="8.6"/>
<circle class="o" cx="261.7" cy="2036.7" r="8.6"/>
<circle class="o" cx="424.3" cy="2175" r="8.6"/>
<circle class="o" cx="420" cy="2187.7" r="8.6"/>
<circle class="o" cx="227.3" cy="2238.3" r="8.6"/>
<circle class="o" cx="317.6" cy="2244.3" r="8.6"/>
<circle class="o" cx="340.5" cy="2267.8" r="8.6"/>
<circle class="o" cx="349.8" cy="2279.7" r="8.6"/>
<circle class="o" cx="368.1" cy="2287.5" r="8.6"/>
<circle class="o" cx="377" cy="2315.8" r="8.6"/>
<circle class="o" cx="371.3" cy="2326.2" r="8.6"/>
<circle class="o" cx="330.8" cy="2359.7" r="8.6"/>
<circle class="o" cx="344.8" cy="2350.8" r="8.6"/>
<circle class="o" cx="349.7" cy="2359.7" r="8.6"/>
<circle class="o" cx="410.5" cy="2331.8" r="8.6"/>
<circle class="o" cx="387.6" cy="2343.8" r="8.6"/>
<circle class="o" cx="385.6" cy="2348.8" r="8.6"/>
<circle class="o" cx="400.6" cy="2354.8" r="8.6"/>
<circle class="o" cx="404.6" cy="2357.8" r="8.6"/>
<circle class="o" cx="393.6" cy="2365.3" r="8.6"/>
<circle class="o" cx="422.5" cy="2371.7" r="8.6"/>
<circle class="o" cx="442.7" cy="2387" r="8.6"/>
<circle class="o" cx="437.4" cy="2342.8" r="8.6"/>
<circle class="o" cx="432.7" cy="2238.9" r="8.6"/>
<circle class="o" cx="477.1" cy="2251.8" r="8.6"/>
<circle class="o" cx="488.9" cy="2274.8" r="8.6"/>
<circle class="o" cx="465.3" cy="2290.5" r="8.6"/>
<circle class="o" cx="385.9" cy="2286.7" r="8.6"/>
<circle class="o" cx="390.9" cy="2292.7" r="8.6"/>
<circle class="o" cx="453.8" cy="2308.3" r="8.6"/>
<circle class="o" cx="573.9" cy="2327.8" r="8.6"/>
<circle class="o" cx="461.9" cy="2340.8" r="8.6"/>
<circle class="o" cx="456.9" cy="2345.8" r="8.6"/>
<circle class="o" cx="465.9" cy="2357.8" r="8.6"/>
<circle class="o" cx="498.8" cy="2370.3" r="8.6"/>
<circle class="o" cx="653.6" cy="2348.1" r="8.6"/>
</g>
</svg></body></html>
